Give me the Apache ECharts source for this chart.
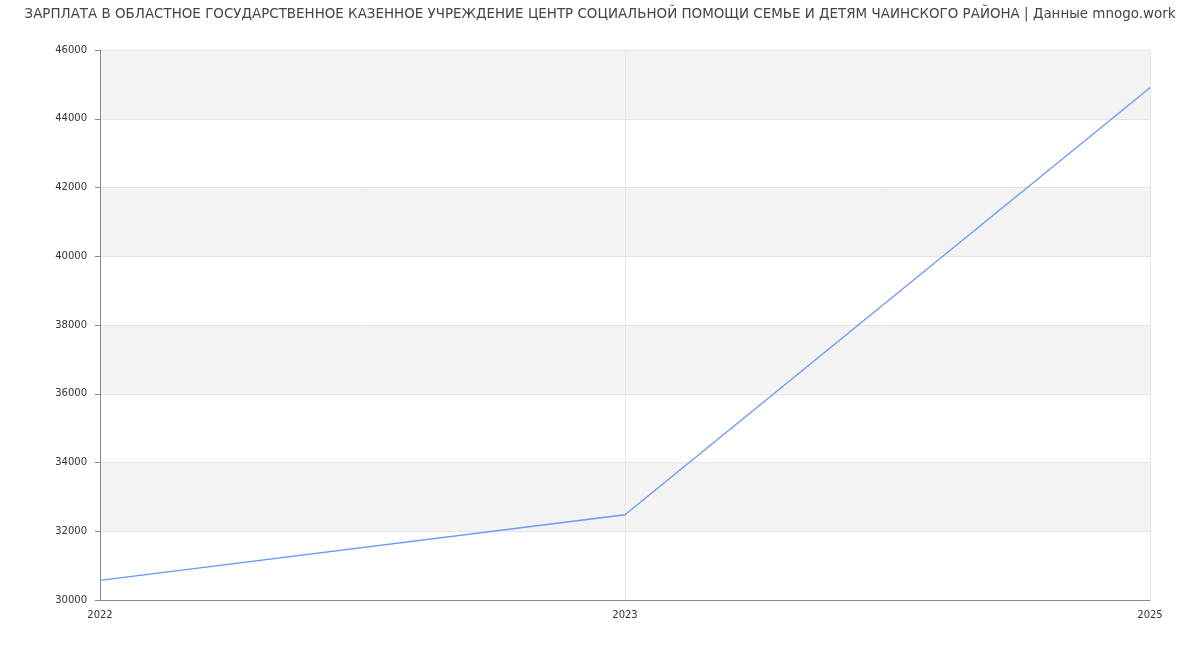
<!DOCTYPE html>
<html>
<head>
<meta charset="utf-8">
<script src="https://cdn.jsdelivr.net/npm/echarts@6/dist/echarts.min.js"></script>
<style>
    html, body { margin: 0; padding: 0; background: #fff; }
    #chart { width: 1200px; height: 650px; }
</style>
</head>
<body>
<div id="chart"></div>
<script>
// 数据
const years = ['2022', '2023', '2025'];
const salary = [30570, 32480, 44900];
const titleText = 'ЗАРПЛАТА В ОБЛАСТНОЕ ГОСУДАРСТВЕННОЕ КАЗЕННОЕ УЧРЕЖДЕНИЕ ЦЕНТР СОЦИАЛЬНОЙ ПОМОЩИ СЕМЬЕ И ДЕТЯМ ЧАИНСКОГО РАЙОНА | Данные mnogo.work';

let chart = echarts.init(document.getElementById('chart'));

let option = {
    animation: false,
    title: {
        text: titleText,
        left: 'center',
        top: 3,
        textStyle: {
            fontFamily: 'DejaVu Sans',
            fontSize: 13.45,
            fontWeight: 'normal',
            color: '#444'
        }
    },
    grid: {
        left: 100,
        right: 50,
        top: 50,
        bottom: 50
    },
    xAxis: {
        type: 'category',
        data: years,
        boundaryGap: false,
        axisLine: { lineStyle: { color: '#888' } },
        axisTick: { show: false },
        axisLabel: {
            color: '#333',
            fontFamily: 'DejaVu Sans',
            fontSize: 10,
            margin: 10,
            alignMinLabel: 'center',
            alignMaxLabel: 'center'
        },
        splitLine: { show: true, lineStyle: { color: '#e6e6e6' } }
    },
    yAxis: {
        type: 'value',
        min: 30000,
        max: 46000,
        interval: 2000,
        axisLine: { show: true, lineStyle: { color: '#888' } },
        axisTick: { show: true, length: 5, lineStyle: { color: '#888' } },
        axisLabel: {
            color: '#333',
            fontFamily: 'DejaVu Sans',
            fontSize: 10,
            margin: 13,
            formatter: function (v) {
                return String(v);
            }
        },
        splitLine: { show: true, lineStyle: { color: '#e3e3e3' } },
        splitArea: { show: true, areaStyle: { color: ['#ffffff', '#f3f3f3'] } }
    },
    series: [
        {
            type: 'line',
            data: salary,
            symbol: 'none',
            lineStyle: { color: '#6b98f2', width: 1.3 }
        }
    ]
};

chart.setOption(option);
</script>
</body>
</html>
